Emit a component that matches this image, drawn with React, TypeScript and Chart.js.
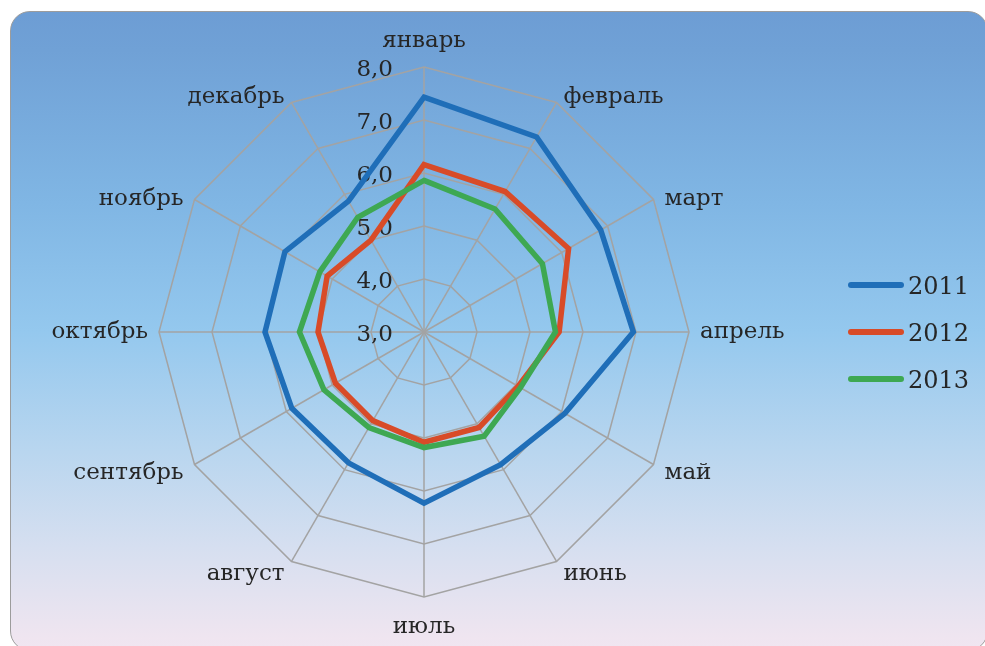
import React, { useEffect, useRef } from 'react';
import { Chart, registerables } from 'chart.js';

Chart.register(...registerables);

// ---- data ----
const MONTHS = ['январь', 'февраль', 'март', 'апрель', 'май', 'июнь', 'июль', 'август', 'сентябрь', 'октябрь', 'ноябрь', 'декабрь'];
const SERIES_NAMES = ['2011', '2012', '2013'];
const VALUES_2011 = [7.43, 7.25, 6.85, 6.95, 6.07, 5.89, 6.23, 5.85, 5.88, 6.0, 6.03, 5.85];
const VALUES_2012 = [6.16, 6.06, 6.15, 5.55, 5.05, 5.08, 5.08, 4.93, 4.93, 5.0, 5.11, 5.0];
const VALUES_2013 = [5.86, 5.68, 5.58, 5.48, 5.1, 5.27, 5.18, 5.08, 5.18, 5.35, 5.27, 5.5];
const TICK_VALUES = [3, 4, 5, 6, 7, 8];
const TICK_LABELS = ['3,0', '4,0', '5,0', '6,0', '7,0', '8,0'];

const SERIES_VALUES = [VALUES_2011, VALUES_2012, VALUES_2013];
const COLORS = ['#1f6eb8', '#d84b28', '#3ea852'];
const FONT = '"DejaVu Serif", serif';
const TEXT_COLOR = '#262626';
const GRID_COLOR = '#a3a3a3';

function labelPlacement(deg: number) {
  const d = ((Math.round(deg) % 360) + 360) % 360;
  const half = d <= 180 ? d : 360 - d;
  const table: Record<number, [number, number]> = {
    0: [0, -20],
    30: [7, 0],
    60: [11, 5],
    90: [11, 6],
    120: [11, 14],
    150: [7, 19],
    180: [0, 36],
  };
  const [gx, dy] = table[half] ?? [9, 6];
  const side = d === 0 || d === 180 ? 0 : d < 180 ? 1 : -1;
  const align: CanvasTextAlign = side === 0 ? 'center' : side > 0 ? 'left' : 'right';
  return { align, dx: gx * side, dy };
}

const overlayPlugin = {
  id: 'overlay',
  beforeDatasetsDraw(chart: any) {
    const scale = chart.scales.r;
    const ctx: CanvasRenderingContext2D = chart.ctx;
    ctx.save();
    ctx.font = `23px ${FONT}`;
    ctx.fillStyle = TEXT_COLOR;
    ctx.textAlign = 'right';
    ctx.textBaseline = 'alphabetic';
    TICK_VALUES.forEach((v, i) => {
      const y = scale.yCenter - scale.getDistanceFromCenterForValue(v);
      ctx.fillText(TICK_LABELS[i], scale.xCenter - 31, y + 9);
    });
    ctx.restore();
  },
  afterDraw(chart: any) {
    const scale = chart.scales.r;
    const ctx: CanvasRenderingContext2D = chart.ctx;
    ctx.save();
    // point labels
    ctx.font = `23px ${FONT}`;
    ctx.fillStyle = TEXT_COLOR;
    ctx.textBaseline = 'alphabetic';
    const labels: string[] = chart.data.labels;
    labels.forEach((label, i) => {
      const pos = scale.getPointPosition(i, scale.drawingArea);
      const deg = (i * 360) / labels.length;
      const p = labelPlacement(deg);
      ctx.textAlign = p.align;
      ctx.fillText(label, pos.x + p.dx, pos.y + p.dy);
    });
    // legend
    ctx.font = `24px ${FONT}`;
    ctx.textAlign = 'left';
    chart.data.datasets.forEach((ds: any, i: number) => {
      const y = scale.yCenter + (i - 1) * 47;
      ctx.strokeStyle = ds.borderColor;
      ctx.lineWidth = 6;
      ctx.lineCap = 'round';
      ctx.beginPath();
      ctx.moveTo(851, y);
      ctx.lineTo(901, y);
      ctx.stroke();
      ctx.fillStyle = TEXT_COLOR;
      ctx.fillText(ds.label, 908, y + 9);
    });
    ctx.restore();
  },
};

export default function App() {
  const canvasRef = useRef<HTMLCanvasElement | null>(null);

  useEffect(() => {
    if (!canvasRef.current) return;
    const chart = new Chart(canvasRef.current, {
      type: 'radar',
      data: {
        labels: MONTHS,
        datasets: SERIES_NAMES.map((name, i) => ({
          label: name,
          data: SERIES_VALUES[i],
          borderColor: COLORS[i],
          backgroundColor: COLORS[i],
          borderWidth: 5.5,
          borderJoinStyle: 'miter' as const,
          fill: false,
          pointRadius: 0,
          pointHoverRadius: 0,
          order: SERIES_NAMES.length - i,
        })),
      },
      options: {
        responsive: false,
        animation: false,
        devicePixelRatio: 1,
        layout: { padding: { left: 100, right: 237, top: 67, bottom: 49 } },
        plugins: {
          legend: { display: false },
          tooltip: { enabled: false },
        },
        elements: { line: { tension: 0 } },
        scales: {
          r: {
            min: 3,
            max: 8,
            beginAtZero: false,
            ticks: { display: false, stepSize: 1 },
            grid: { color: GRID_COLOR, lineWidth: 1.5 },
            angleLines: { color: GRID_COLOR, lineWidth: 1.5 },
            pointLabels: { display: false },
          },
        },
      },
      plugins: [overlayPlugin],
    } as any);
    return () => chart.destroy();
  }, []);

  return (
    <div style={{ position: 'fixed', left: 0, top: 0, width: 985, height: 646, overflow: 'hidden', background: '#ffffff' }}>
      <div
        style={{
          position: 'absolute',
          left: 10,
          top: 11,
          width: 978,
          height: 640,
          borderRadius: 20,
          border: '1.5px solid #9c9c9c',
          boxSizing: 'border-box',
          background:
            'linear-gradient(to bottom, #6d9dd4 0%, #70a1d6 6%, #80b6e4 30%, #94c8ee 50%, #b9d6ef 69%, #d6dff0 84%, #efe5f0 98%, #f1e6f1 100%)',
        }}
      />
      <canvas ref={canvasRef} width={985} height={646} style={{ position: 'absolute', left: 0, top: 0, display: 'block' }} />
    </div>
  );
}
